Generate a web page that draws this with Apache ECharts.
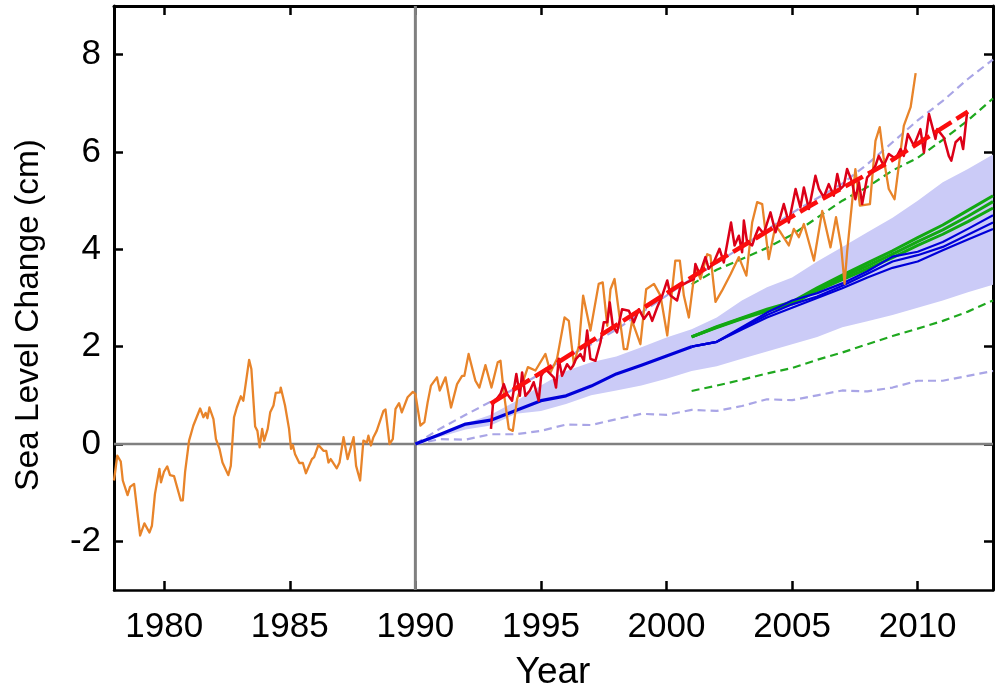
<!DOCTYPE html>
<html>
<head>
<meta charset="utf-8">
<style>html,body{margin:0;background:#fff}#chart{width:1000px;height:700px}</style>
<script src="https://cdn.jsdelivr.net/npm/echarts@6/dist/echarts.min.js"></script>
</head>
<body>
<div id="chart"></div>
<script>
var xTicks = [1980, 1985, 1990, 1995, 2000, 2005, 2010];
var yTicks = [-2, 0, 2, 4, 6, 8];

// tide gauge / satellite records as [year, cm]
var tideGauge = [[1978.00,-0.75],[1978.13,-0.24],[1978.27,-0.36],[1978.35,-0.75],[1978.54,-1.05],[1978.64,-0.88],[1978.80,-0.82],[1979.04,-1.88],[1979.21,-1.63],[1979.41,-1.82],[1979.51,-1.68],[1979.63,-1.03],[1979.81,-0.51],[1979.87,-0.79],[1979.99,-0.57],[1980.12,-0.46],[1980.23,-0.64],[1980.39,-0.66],[1980.66,-1.16],[1980.74,-1.16],[1980.83,-0.58],[1980.99,0.07],[1981.16,0.38],[1981.43,0.73],[1981.56,0.55],[1981.65,0.64],[1981.72,0.53],[1981.80,0.75],[1981.96,0.51],[1982.06,0.10],[1982.20,-0.10],[1982.32,-0.38],[1982.55,-0.64],[1982.65,-0.45],[1982.78,0.55],[1982.89,0.75],[1983.05,0.98],[1983.15,0.89],[1983.38,1.73],[1983.47,1.54],[1983.62,0.36],[1983.71,0.27],[1983.80,-0.07],[1983.90,0.31],[1983.98,0.07],[1984.12,0.31],[1984.22,0.65],[1984.35,0.79],[1984.44,1.05],[1984.61,1.06],[1984.64,1.16],[1984.81,0.79],[1984.97,0.31],[1985.05,-0.10],[1985.12,-0.02],[1985.21,-0.21],[1985.38,-0.39],[1985.52,-0.39],[1985.64,-0.60],[1985.88,-0.31],[1985.97,-0.27],[1986.14,-0.02],[1986.34,-0.14],[1986.45,-0.14],[1986.54,-0.38],[1986.63,-0.31],[1986.87,-0.50],[1986.98,-0.38],[1987.14,0.14],[1987.30,-0.31],[1987.54,0.14],[1987.64,-0.45],[1987.80,-0.75],[1987.93,0.07],[1988.07,0.03],[1988.13,0.17],[1988.23,-0.03],[1988.33,0.14],[1988.46,0.27],[1988.53,0.31],[1988.73,0.68],[1988.81,0.71],[1988.97,0.00],[1989.10,0.10],[1989.21,0.72],[1989.35,0.84],[1989.46,0.65],[1989.53,0.66],[1989.69,0.96],[1989.90,1.07],
[1990.00,1.03],[1990.20,0.38],[1990.36,0.45],[1990.49,0.86],[1990.62,1.20],[1990.86,1.37],[1990.97,1.10],[1991.20,1.37],[1991.42,0.75],[1991.66,1.23],[1991.86,1.40],[1991.95,1.40],[1992.12,1.85],[1992.39,1.30],[1992.55,1.16],[1992.79,1.62],[1993.03,1.16],[1993.28,1.68],[1993.39,1.71],[1993.52,1.06],[1993.72,0.31],[1993.88,0.27],[1994.05,0.92],[1994.48,1.58],[1994.78,1.51],[1995.18,1.85],[1995.38,1.47],[1995.64,1.75],[1995.94,2.60],[1996.11,2.53],[1996.31,1.64],[1996.51,2.02],[1996.68,3.05],[1996.97,2.33],[1997.30,3.29],[1997.46,3.32],[1997.64,2.43],[1997.77,3.18],[1997.93,3.39],[1998.30,1.95],[1998.43,1.95],[1998.63,2.53],[1998.96,2.05],[1999.19,3.18],[1999.50,3.29],[1999.76,3.05],[2000.03,2.23],[2000.35,3.77],[2000.53,3.77],[2000.69,3.05],[2000.89,2.60],[2001.15,3.66],[2001.35,3.39],[2001.62,3.90],[2001.75,3.87],[2001.95,2.92],[2002.21,3.15],[2002.55,3.49],[2002.88,3.84],[2003.18,3.46],[2003.41,4.55],[2003.61,4.97],[2003.81,4.93],[2004.07,3.80],[2004.34,4.49],[2004.54,4.35],[2004.87,4.08],[2005.07,4.42],[2005.27,4.25],[2005.47,4.52],[2005.87,3.77],[2006.20,4.79],[2006.53,4.04],[2006.75,4.66],[2006.95,4.08],[2007.09,3.29],[2007.19,3.94],[2007.39,4.97],[2007.52,5.65],[2007.70,4.90],[2008.10,4.93],[2008.32,6.23],[2008.49,6.51],[2008.65,5.86],[2008.85,5.24],[2009.08,5.03],[2009.25,5.72],[2009.45,6.54],[2009.72,6.92],[2009.92,7.62]];

var satellite = [[1993.01,0.31],[1993.09,0.82],[1993.23,0.92],[1993.39,1.03],[1993.52,1.23],[1993.65,1.03],[1993.85,0.89],[1994.02,1.44],[1994.16,0.99],[1994.25,1.47],[1994.38,0.99],[1994.56,1.10],[1994.71,1.27],[1994.91,0.89],[1995.01,1.40],[1995.18,1.54],[1995.31,1.47],[1995.51,1.37],[1995.60,1.16],[1995.71,1.75],[1995.84,1.40],[1996.04,1.64],[1996.18,1.54],[1996.28,1.61],[1996.40,1.75],[1996.57,1.85],[1996.71,1.71],[1996.84,2.33],[1996.97,1.75],[1997.17,1.71],[1997.37,2.09],[1997.50,2.50],[1997.64,2.50],[1997.74,2.91],[1997.86,2.43],[1998.03,2.29],[1998.23,2.77],[1998.50,2.74],[1998.70,2.50],[1998.90,2.77],[1999.10,2.57],[1999.30,2.71],[1999.43,2.53],[1999.63,2.81],[1999.83,3.05],[2000.03,3.36],[2000.16,3.05],[2000.42,2.95],[2000.56,3.25],[2000.82,3.32],[2001.09,3.39],[2001.15,3.70],[2001.32,3.49],[2001.55,3.84],[2001.68,3.60],[2001.88,3.73],[2002.11,4.01],[2002.28,3.73],[2002.57,4.55],[2002.71,4.08],[2002.88,4.28],[2003.01,3.94],[2003.08,4.59],[2003.21,4.14],[2003.41,4.08],[2003.54,4.28],[2003.67,4.45],[2003.87,4.32],[2004.14,4.76],[2004.34,4.35],[2004.54,4.69],[2004.67,4.93],[2004.87,4.55],[2005.14,5.24],[2005.33,4.86],[2005.47,5.27],[2005.67,4.83],[2005.93,5.51],[2006.07,5.24],[2006.26,5.07],[2006.46,5.34],[2006.66,5.10],[2006.80,5.55],[2006.93,5.24],[2007.06,5.31],[2007.19,5.65],[2007.39,5.38],[2007.52,5.03],[2007.66,5.38],[2007.79,4.93],[2007.99,5.48],[2008.12,5.55],[2008.32,5.72],[2008.45,5.92],[2008.65,5.72],[2008.85,5.96],[2009.12,5.86],[2009.32,6.06],[2009.45,5.92],[2009.61,6.37],[2009.85,6.13],[2010.11,6.47],[2010.25,5.99],[2010.45,6.78],[2010.71,6.27],[2010.78,6.47],[2011.04,6.30],[2011.24,5.92],[2011.34,5.82],[2011.51,6.20],[2011.71,6.30],[2011.81,6.06],[2011.97,6.82]];

var satelliteTrend = [[1993,0.83],[1995.78,1.71],[2001.62,3.63],[2005.6,4.86],[2008.85,5.79],[2012,6.83]];

// model projections, one value per year
var years90 = [1990,1991,1992,1993,1994,1995,1996,1997,1998,1999,2000,2001,2002,2003,2004,2005,2006,2007,2008,2009,2010,2011,2012,2013];
var bandLower = [0,0.15,0.30,0.38,0.62,0.68,0.82,1.00,1.10,1.20,1.34,1.50,1.60,1.75,1.90,2.05,2.20,2.40,2.52,2.65,2.80,2.95,3.12,3.27];
var bandUpper = [0,0.20,0.42,0.60,0.88,1.20,1.50,1.68,1.80,1.99,2.19,2.36,2.60,2.95,3.22,3.42,3.75,4.05,4.35,4.65,5.00,5.38,5.65,5.95];
var purpleLower = [0,0.10,0.09,0.20,0.20,0.27,0.40,0.39,0.51,0.62,0.60,0.70,0.68,0.78,0.92,0.90,1.00,1.10,1.08,1.16,1.30,1.30,1.40,1.50];
var purpleUpper = [0,0.32,0.60,0.87,1.15,1.45,1.78,2.05,2.35,2.70,3.05,3.40,3.72,4.05,4.40,4.75,5.05,5.35,5.75,6.20,6.65,7.05,7.50,7.90];
var blueEarly = [0,0.20,0.41,0.49,0.69,0.89,0.99,1.19,1.44,1.62,1.81,2.00];

var years01 = [2001,2002,2003,2004,2005,2006,2007,2008,2009,2010,2011,2012,2013];
var blueA = [2.00,2.10,2.35,2.60,2.80,3.00,3.20,3.42,3.62,3.75,3.98,4.20,4.42];
var blueB = [2.00,2.10,2.38,2.65,2.87,3.03,3.25,3.50,3.75,3.88,4.05,4.30,4.55];
var blueC = [2.00,2.10,2.40,2.70,2.95,3.10,3.30,3.55,3.85,3.95,4.15,4.42,4.70];
var greenA = [2.20,2.39,2.57,2.73,2.88,3.15,3.38,3.60,3.83,4.08,4.31,4.57,4.85];
var greenB = [2.20,2.40,2.58,2.75,2.90,3.18,3.43,3.66,3.90,4.16,4.40,4.68,4.98];
var greenC = [2.20,2.41,2.59,2.77,2.92,3.21,3.47,3.72,3.97,4.24,4.50,4.80,5.10];
var greenLow = [1.09,1.20,1.32,1.45,1.56,1.73,1.88,2.05,2.22,2.37,2.53,2.72,2.95];
var greenHigh = [3.28,3.58,3.80,4.03,4.30,4.65,5.00,5.28,5.62,5.88,6.25,6.65,7.10];

var zeroLine = [[1978,0],[2013,0]];
var line1990 = [[1990,-3],[1990,9]];

function pairs(xs, ys){
    return ys.map(function(v, i){ return [xs[i], v]; });
}
function line(data, color, width, dash, z){
    return {
        type: 'line', data: data, showSymbol: false, symbol: 'none', z: z, silent: true,
        lineStyle: {color: color, width: width, type: dash || 'solid', cap: 'butt', join: 'round'}
    };
}

var chart = echarts.init(document.getElementById("chart"));
var font = 'Liberation Sans';
var tickStyle = {color: '#000', width: 2.5};
var plainYear = function(v){ return String(v); };

var option = {
    animation: false,
    grid: {left: 114, right: 7, top: 6, bottom: 110},
    graphic: [{
        type: 'text', x: 553, y: 673,
        style: {text: 'Year', font: '37px "Liberation Sans"', fill: '#000', textAlign: 'center', textVerticalAlign: 'middle'}
    }, {
        type: 'text', x: 29, y: 315, rotation: Math.PI / 2,
        style: {text: 'Sea Level Change (cm)', font: '33.5px "Liberation Sans"', fill: '#000', textAlign: 'center', textVerticalAlign: 'middle'}
    }],
    xAxis: [{
        type: 'value', min: 1978, max: 2013, splitLine: {show: false},
        axisLine: {onZero: false, lineStyle: {color: '#000', width: 2.5}},
        axisTick: {inside: true, length: 9, lineStyle: tickStyle, customValues: xTicks},
        axisLabel: {fontFamily: font, fontSize: 35, color: '#000', margin: 20, customValues: xTicks, formatter: plainYear}
    }, {
        type: 'value', position: 'top', min: 1978, max: 2013, splitLine: {show: false},
        axisLine: {onZero: false, lineStyle: {color: '#000', width: 3}},
        axisTick: {inside: true, length: 9, lineStyle: tickStyle, customValues: xTicks},
        axisLabel: {show: false}
    }],
    yAxis: [{
        type: 'value', min: -3, max: 9, splitLine: {show: false},
        axisLine: {onZero: false, lineStyle: {color: '#000', width: 3}},
        axisTick: {inside: true, length: 9, lineStyle: tickStyle, customValues: yTicks},
        axisLabel: {fontFamily: font, fontSize: 35, color: '#000', margin: 13, customValues: yTicks}
    }, {
        type: 'value', position: 'right', min: -3, max: 9, splitLine: {show: false},
        axisLine: {onZero: false, lineStyle: {color: '#000', width: 3}},
        axisTick: {inside: true, length: 9, lineStyle: tickStyle, customValues: yTicks},
        axisLabel: {show: false}
    }],
    series: [
        {
            type: 'custom', z: 1, silent: true,
            data: years90.map(function(y, i){ return [y, bandLower[i], bandUpper[i]]; }),
            encode: {x: 0, y: [1, 2]},
            renderItem: function(params, api){
                if (params.dataIndex !== 0) return;
                var lo = [], hi = [];
                for (var i = 0; i < years90.length; i++) {
                    lo.push(api.coord([years90[i], bandLower[i]]));
                    hi.unshift(api.coord([years90[i], bandUpper[i]]));
                }
                return {type: 'polygon', shape: {points: lo.concat(hi)}, style: {fill: '#cbcbf7'}};
            }
        },
        line(zeroLine, '#808080', 2.5, null, 2),
        line(line1990, '#808080', 3, null, 2),
        line(pairs(years90, purpleLower), '#a9a5e6', 2.2, [8, 5], 3),
        line(pairs(years90, purpleUpper), '#a9a5e6', 2.2, [8, 5], 3),
        line(pairs(years01, greenLow), '#1fa81f', 2.2, [8, 5], 3),
        line(pairs(years01, greenHigh), '#1fa81f', 2.2, [8, 5], 3),
        line(pairs(years01, greenA), '#12a812', 3, null, 4),
        line(pairs(years01, greenB), '#12a812', 3, null, 4),
        line(pairs(years01, greenC), '#12a812', 3, null, 4),
        line(pairs(years90.slice(0, 12), blueEarly), '#0000d8', 3.2, null, 5),
        line(pairs(years01, blueA), '#0000d8', 2.2, null, 5),
        line(pairs(years01, blueB), '#0000d8', 2.2, null, 5),
        line(pairs(years01, blueC), '#0000d8', 2.2, null, 5),
        line(tideGauge, '#e8842a', 2.3, null, 6),
        line(satellite, '#dc0018', 2.5, null, 7),
        line(satelliteTrend, '#fb0d0d', 4.5, [20, 6], 8)
    ]
};

chart.setOption(option);

window.onresize = function(){
    chart.resize();
}
</script>
</body>
</html>
